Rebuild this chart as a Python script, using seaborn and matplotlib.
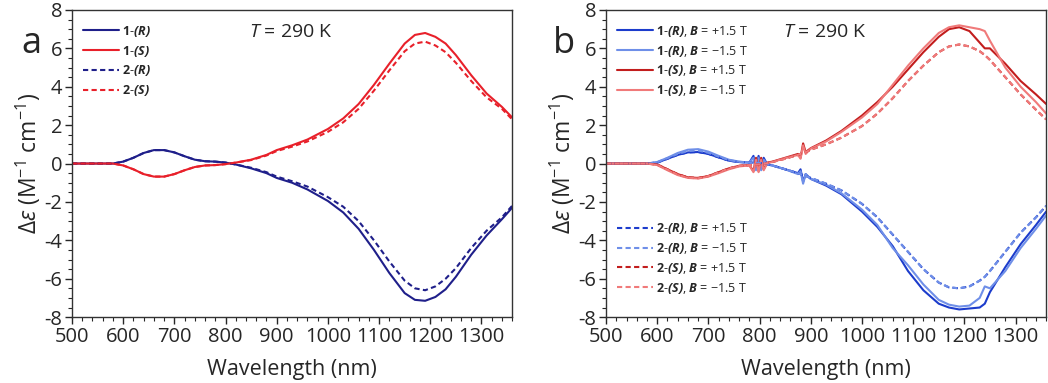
#----------------------------------------------------import libraries
import matplotlib
matplotlib.use("Agg")
import matplotlib.pyplot as plt
import seaborn as sns
from matplotlib.ticker import MultipleLocator

#----------------------------------------------------data (panel a)
wl_a = [500, 540, 580, 600, 620, 640, 660, 680, 700, 720, 740, 760, 780, 800, 820,
        850, 880, 900, 930, 960, 1000, 1030, 1060, 1090, 1120, 1150, 1170, 1190,
        1210, 1230, 1250, 1280, 1310, 1340, 1360]
r1_a = [0, 0, 0, 0.1, 0.3, 0.55, 0.7, 0.7, 0.58, 0.38, 0.2, 0.12, 0.1, 0.05, -0.05,
        -0.25, -0.5, -0.75, -1.0, -1.35, -1.95, -2.55, -3.4, -4.5, -5.7, -6.75, -7.1,
        -7.15, -6.95, -6.55, -5.9, -4.75, -3.75, -2.9, -2.3]
s1_a = [0, 0, 0, -0.1, -0.3, -0.55, -0.68, -0.68, -0.55, -0.35, -0.18, -0.1, -0.08,
        -0.03, 0.05, 0.2, 0.45, 0.7, 0.95, 1.25, 1.8, 2.35, 3.1, 4.1, 5.2, 6.25, 6.7,
        6.8, 6.6, 6.25, 5.65, 4.6, 3.65, 2.95, 2.4]
r2_a = [0, 0, 0, 0.1, 0.3, 0.55, 0.7, 0.7, 0.58, 0.38, 0.2, 0.12, 0.1, 0.05, -0.05,
        -0.22, -0.45, -0.68, -0.92, -1.2, -1.75, -2.25, -3.0, -4.0, -5.1, -6.1, -6.5,
        -6.6, -6.4, -6.0, -5.45, -4.4, -3.5, -2.8, -2.2]
s2_a = [0, 0, 0, -0.1, -0.3, -0.55, -0.68, -0.68, -0.55, -0.35, -0.18, -0.1, -0.08,
        -0.03, 0.05, 0.18, 0.42, 0.65, 0.88, 1.15, 1.65, 2.15, 2.85, 3.8, 4.85, 5.85,
        6.25, 6.35, 6.15, 5.8, 5.25, 4.3, 3.45, 2.85, 2.3]

#----------------------------------------------------data (panel b)
wl_b = [500, 540, 580, 600, 620, 640, 660, 680, 700, 720, 740, 760, 780, 788, 793,
        798, 803, 808, 815, 825, 850, 875, 880, 885, 890, 900, 930, 960, 1000, 1030,
        1060, 1090, 1120, 1150, 1170, 1190, 1210, 1230, 1240, 1250, 1280, 1310, 1340,
        1360]
r1_pos = [0, 0, 0, 0.05, 0.25, 0.45, 0.58, 0.6, 0.5, 0.32, 0.15, 0.08, 0.05, 0.4,
          -0.25, 0.4, -0.25, 0.3, -0.05, -0.1, -0.3, -0.5, -0.3, -0.95, -0.55, -0.8,
          -1.15, -1.6, -2.5, -3.3, -4.3, -5.6, -6.6, -7.3, -7.5, -7.6, -7.55, -7.5,
          -7.3, -6.7, -5.4, -4.2, -3.2, -2.5]
r1_neg = [0, 0, 0, 0.08, 0.3, 0.55, 0.72, 0.75, 0.62, 0.4, 0.2, 0.1, 0.05, 0.3,
          -0.35, 0.3, -0.35, 0.2, -0.05, -0.1, -0.3, -0.55, -0.4, -1.05, -0.55, -0.8,
          -1.1, -1.55, -2.4, -3.2, -4.4, -5.3, -6.3, -7.1, -7.35, -7.45, -7.4, -7.0,
          -6.4, -6.5, -5.6, -4.4, -3.4, -2.7]
s1_pos = [0, 0, 0, -0.05, -0.3, -0.55, -0.72, -0.75, -0.65, -0.45, -0.25, -0.12,
          -0.08, -0.4, 0.3, -0.4, 0.3, -0.3, 0.05, 0.1, 0.3, 0.5, 0.3, 1.05, 0.6,
          0.8, 1.2, 1.7, 2.5, 3.2, 4.0, 4.9, 5.8, 6.6, 7.0, 7.1, 6.9, 6.3, 6.0, 6.0,
          5.2, 4.3, 3.6, 3.1]
s1_neg = [0, 0, 0, -0.08, -0.35, -0.6, -0.75, -0.78, -0.68, -0.5, -0.3, -0.15,
          -0.1, -0.45, 0.2, -0.45, 0.2, -0.35, 0.02, 0.08, 0.28, 0.45, 0.25, 0.95,
          0.5, 0.78, 1.15, 1.65, 2.4, 3.1, 4.1, 5.1, 6.0, 6.8, 7.1, 7.2, 7.1, 7.0,
          6.9, 6.4, 5.0, 4.0, 3.2, 2.6]
r2_pos = [0, 0, 0, 0.05, 0.25, 0.45, 0.58, 0.6, 0.5, 0.32, 0.15, 0.08, 0.05, 0.05,
          0.04, 0.03, 0.02, 0.0, -0.03, -0.1, -0.3, -0.5, -0.55, -0.6, -0.65, -0.75,
          -1.05, -1.4, -2.1, -2.8, -3.7, -4.6, -5.5, -6.2, -6.45, -6.5, -6.4, -6.1,
          -5.9, -5.6, -4.6, -3.6, -2.8, -2.2]
r2_neg = [0, 0, 0, 0.07, 0.28, 0.5, 0.65, 0.68, 0.56, 0.36, 0.18, 0.09, 0.05, 0.05,
          0.04, 0.03, 0.02, 0.0, -0.03, -0.1, -0.3, -0.5, -0.55, -0.6, -0.65, -0.75,
          -1.05, -1.4, -2.1, -2.8, -3.7, -4.6, -5.5, -6.2, -6.45, -6.5, -6.4, -6.1,
          -5.9, -5.6, -4.6, -3.6, -2.8, -2.2]
s2_pos = [0, 0, 0, -0.05, -0.3, -0.55, -0.72, -0.75, -0.65, -0.45, -0.25, -0.12,
          -0.08, -0.07, -0.06, -0.05, -0.04, -0.02, 0.02, 0.08, 0.25, 0.45, 0.5, 0.55,
          0.6, 0.72, 1.0, 1.35, 1.95, 2.6, 3.4, 4.3, 5.1, 5.8, 6.1, 6.2, 6.1, 5.85,
          5.65, 5.4, 4.5, 3.6, 2.8, 2.3]
s2_neg = [0, 0, 0, -0.07, -0.32, -0.58, -0.74, -0.77, -0.66, -0.46, -0.26, -0.13,
          -0.08, -0.07, -0.06, -0.05, -0.04, -0.02, 0.02, 0.08, 0.25, 0.45, 0.5, 0.55,
          0.6, 0.72, 1.0, 1.35, 1.95, 2.6, 3.4, 4.3, 5.1, 5.8, 6.1, 6.2, 6.1, 5.85,
          5.65, 5.4, 4.5, 3.6, 2.8, 2.3]

#----------------------------------------------------style
sns.set_theme(style="ticks")
plt.rcParams["font.family"] = ["Open Sans", "DejaVu Sans"]
plt.rcParams["axes.unicode_minus"] = False
plt.rcParams["mathtext.fontset"] = "custom"
plt.rcParams["mathtext.rm"] = "Open Sans"
plt.rcParams["mathtext.it"] = "Open Sans:italic"
plt.rcParams["mathtext.bf"] = "Open Sans:bold"
plt.rcParams["mathtext.bfit"] = "Open Sans:bold:italic"

NAVY, RED = "#1f1f8a", "#e8202a"
BLUE, LBLUE = "#1c3ccc", "#6f8fe8"
DRED, PINK = "#c21d1d", "#f07a7a"
DASH = (0, (2.5, 1.6))

fig = plt.figure(figsize=(10.48, 3.83), dpi=100)
ax_a = fig.add_axes([0.0687, 0.172, 0.42, 0.802])
ax_b = fig.add_axes([0.5783, 0.172, 0.42, 0.802])
LEG = dict(frameon=False, fontsize=9, handlelength=2.9, handletextpad=0.25,
           labelspacing=0.38, borderaxespad=0.0, borderpad=0.0)


def lab(n, h, b=None):
    s = rf"$\mathbf{{{n}}}$-$\mathbfit{{({h})}}$"
    if b:
        s += rf", $\mathbfit{{B}}$ = {b} T"
    return s


#----------------------------------------------------panel a
sns.lineplot(x=wl_a, y=r1_a, ax=ax_a, color=NAVY, lw=1.5, label=lab(1, "R"))
sns.lineplot(x=wl_a, y=s1_a, ax=ax_a, color=RED, lw=1.5, label=lab(1, "S"))
sns.lineplot(x=wl_a, y=r2_a, ax=ax_a, color=NAVY, lw=1.5, ls=DASH, label=lab(2, "R"))
sns.lineplot(x=wl_a, y=s2_a, ax=ax_a, color=RED, lw=1.5, ls=DASH, label=lab(2, "S"))
ax_a.legend(loc="upper left", bbox_to_anchor=(0.025, 0.955), **LEG)

#----------------------------------------------------panel b
solid = [(r1_pos, BLUE, lab(1, "R", "+1.5")), (r1_neg, LBLUE, lab(1, "R", "\u22121.5")),
         (s1_pos, DRED, lab(1, "S", "+1.5")), (s1_neg, PINK, lab(1, "S", "\u22121.5"))]
dashed = [(r2_pos, BLUE, lab(2, "R", "+1.5")), (r2_neg, LBLUE, lab(2, "R", "\u22121.5")),
          (s2_pos, DRED, lab(2, "S", "+1.5")), (s2_neg, PINK, lab(2, "S", "\u22121.5"))]
for vals, c, l in solid:
    sns.lineplot(x=wl_b, y=vals, ax=ax_b, color=c, lw=1.5, label=l)
for vals, c, l in dashed:
    sns.lineplot(x=wl_b, y=vals, ax=ax_b, color=c, lw=1.5, ls=DASH, label=l)
handles, labels = ax_b.get_legend_handles_labels()
leg1 = ax_b.legend(handles[:4], labels[:4], loc="upper left",
                   bbox_to_anchor=(0.025, 0.955), **LEG)
ax_b.add_artist(leg1)
ax_b.legend(handles[4:], labels[4:], loc="lower left",
            bbox_to_anchor=(0.025, 0.07), **LEG)

#----------------------------------------------------axes formatting
for ax, letter, xl in [(ax_a, "a", 0.03), (ax_b, "b", 0.538)]:
    ax.set_xlim(500, 1360)
    ax.set_ylim(-8, 8)
    ax.xaxis.set_major_locator(MultipleLocator(100))
    ax.xaxis.set_minor_locator(MultipleLocator(20))
    ax.yaxis.set_major_locator(MultipleLocator(2))
    ax.yaxis.set_minor_locator(MultipleLocator(0.5))
    ax.tick_params(which="major", direction="out", length=5, width=1, labelsize=14.5, pad=2)
    ax.tick_params(which="minor", direction="out", length=3, width=0.8)
    for sp in ax.spines.values():
        sp.set_color("#333333")
        sp.set_linewidth(1)
    ax.set_xlabel("Wavelength (nm)", fontsize=15.5, labelpad=9)
    ax.set_ylabel("$\\mathit{\u0394\u03b5}$ (M$^{-1}$ cm$^{-1}$)", fontsize=16.5, labelpad=1)
    ax.text(845, 6.85, r"$\mathit{T}$ = 290 K", fontsize=14, va="center")
    fig.text(xl, 0.885, letter, fontsize=26, ha="center", va="center")

fig.savefig("out.png", dpi=100)
